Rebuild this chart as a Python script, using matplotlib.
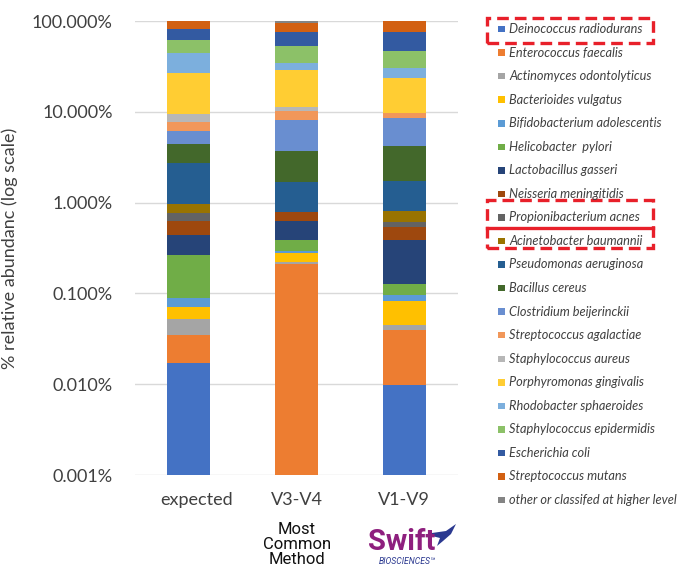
import numpy as np
import matplotlib
matplotlib.use("Agg")
import matplotlib.pyplot as plt
from matplotlib.patches import Rectangle, Polygon
from matplotlib.lines import Line2D
from matplotlib.transforms import ScaledTranslation

plt.rcParams['font.family'] = ['Lato', 'DejaVu Sans']

samples = ["expected", "V3-V4", "V1-V9"]

species = [
    "Deinococcus radiodurans", "Enterococcus faecalis", "Actinomyces odontolyticus",
    "Bacterioides vulgatus", "Bifidobacterium adolescentis", "Helicobacter  pylori",
    "Lactobacillus gasseri", "Neisseria meningitidis", "Propionibacterium acnes",
    "Acinetobacter baumannii", "Pseudomonas aeruginosa", "Bacillus cereus",
    "Clostridium beijerinckii", "Streptococcus agalactiae", "Staphylococcus aureus",
    "Porphyromonas gingivalis", "Rhodobacter sphaeroides", "Staphylococcus epidermidis",
    "Escherichia coli", "Streptococcus mutans", "other or classifed at higher level",
]

colors = [
    "#4472C4", "#ED7D31", "#A5A5A5", "#FFC000", "#5B9BD5", "#70AD47",
    "#264478", "#9E480E", "#636363", "#997300", "#255E91", "#43682B",
    "#698ED0", "#F1975A", "#B7B7B7", "#FFCD33", "#7CAFDD", "#8CC168",
    "#335AA1", "#D26012", "#848484",
]

# % relative abundance per species (bottom to top of each stack)
expected = [0.0173, 0.0172, 0.0173, 0.0189, 0.0182, 0.177, 0.171, 0.186, 0.148, 0.197,
            1.76, 1.69, 1.76, 1.63, 1.76, 17.4, 17.9, 16.9, 19.8, 18.4, 0.0]
v3v4 = [0.0, 0.212, 0.009, 0.059, 0.015, 0.094, 0.234, 0.159, 0.0, 0.0,
        0.89, 2.06, 4.44, 2.13, 1.1, 17.6, 5.3, 18.8, 22.6, 19.3, 5.0]
v1v9 = [0.0098, 0.0295, 0.0053, 0.0372, 0.0134, 0.033, 0.261, 0.147, 0.072, 0.209,
        0.93, 2.48, 4.30, 1.15, 0.0, 13.7, 7.3, 16.1, 28.9, 24.3, 0.0]

yticks = [0.001, 0.01, 0.1, 1, 10, 100]
ytick_labels = ["0.001%", "0.010%", "0.100%", "1.000%", "10.000%", "100.000%"]

W, H = 681, 565


def fx(x):
    return x / W


def fy(y):
    return 1 - y / H


def main():
    fig = plt.figure(figsize=(W / 100, H / 100), dpi=100)
    ax = fig.add_axes([fx(135), fy(475), fx(458) - fx(135), fy(21) - fy(475)])

    data = np.array([expected, v3v4, v1v9])
    x = np.arange(len(samples))
    bottom = np.zeros(len(samples))
    for i in range(len(species)):
        ax.bar(x, data[:, i], 0.4, bottom=bottom, color=colors[i], linewidth=0)
        bottom = bottom + data[:, i]

    ax.set_yscale('log')
    ax.set_ylim(0.001, 100)
    ax.set_xlim(-0.5, 2.5)
    ax.set_yticks(yticks)
    ax.set_yticklabels(ytick_labels)
    ax.minorticks_off()
    ax.set_xticks(x)
    ax.set_xticklabels(samples)
    ax.tick_params(axis='y', length=0, pad=16, labelsize=13, labelcolor='#404040')
    ax.tick_params(axis='x', length=0, pad=12, labelsize=13, labelcolor='#404040')
    lab = ax.get_xticklabels()[0]
    lab.set_transform(lab.get_transform() + ScaledTranslation(8 / 100, 0, fig.dpi_scale_trans))
    ax.grid(axis='y', color='#D9D9D9', linewidth=1)
    ax.set_axisbelow(True)
    for s in ax.spines.values():
        s.set_visible(False)
    ax.set_ylabel('% relative abundanc (log scale)', fontsize=13, color='#404040', labelpad=10)

    # legend drawn by hand so the red boxes line up
    for i, name in enumerate(species):
        yc = 29 + 23.55 * i
        fig.add_artist(Rectangle((fx(498), fy(yc + 3.3)), 6.5 / W, 6.5 / H,
                                 transform=fig.transFigure, color=colors[i], lw=0))
        fig.text(fx(509), fy(yc), name, fontsize=9.2, style='italic',
                 color='#404040', va='center', ha='left')

    red = '#E8202A'
    for (y0, y1) in [(18, 43), (200, 248)]:
        fig.add_artist(Rectangle((fx(487), fy(y1)), (653 - 487) / W, (y1 - y0) / H,
                                 transform=fig.transFigure, fill=False, edgecolor=red,
                                 lw=2.4, linestyle=(0, (3.5, 1.8))))
    fig.add_artist(Line2D([fx(487), fx(653)], [fy(228), fy(228)],
                          transform=fig.transFigure, color=red, lw=2.4))

    fig.text(fx(297), fy(522), "Most\nCommon\nMethod", fontsize=12, ha='center',
             va='top', family='Roboto', linespacing=0.98, color='#111111')
    fig.text(fx(402), fy(542), "Swift", fontsize=21, fontweight='bold', ha='center',
             va='center', family='Roboto', color='#8E1F7E')
    fig.text(fx(407), fy(561), "BIOSCIENCES\u2122", fontsize=6.2, ha='center', va='center',
             family='Roboto', style='italic', color='#2B3990')
    # swift bird mark
    bird = [(432, 533), (446, 531), (456, 524), (451, 534), (443, 541), (437, 546),
            (440, 538), (432, 536)]
    fig.add_artist(Polygon([(fx(a), fy(b)) for a, b in bird], closed=True,
                           transform=fig.transFigure, color='#2B3990', lw=0))

    fig.savefig('out.png', dpi=100)


if __name__ == "__main__":
    main()
